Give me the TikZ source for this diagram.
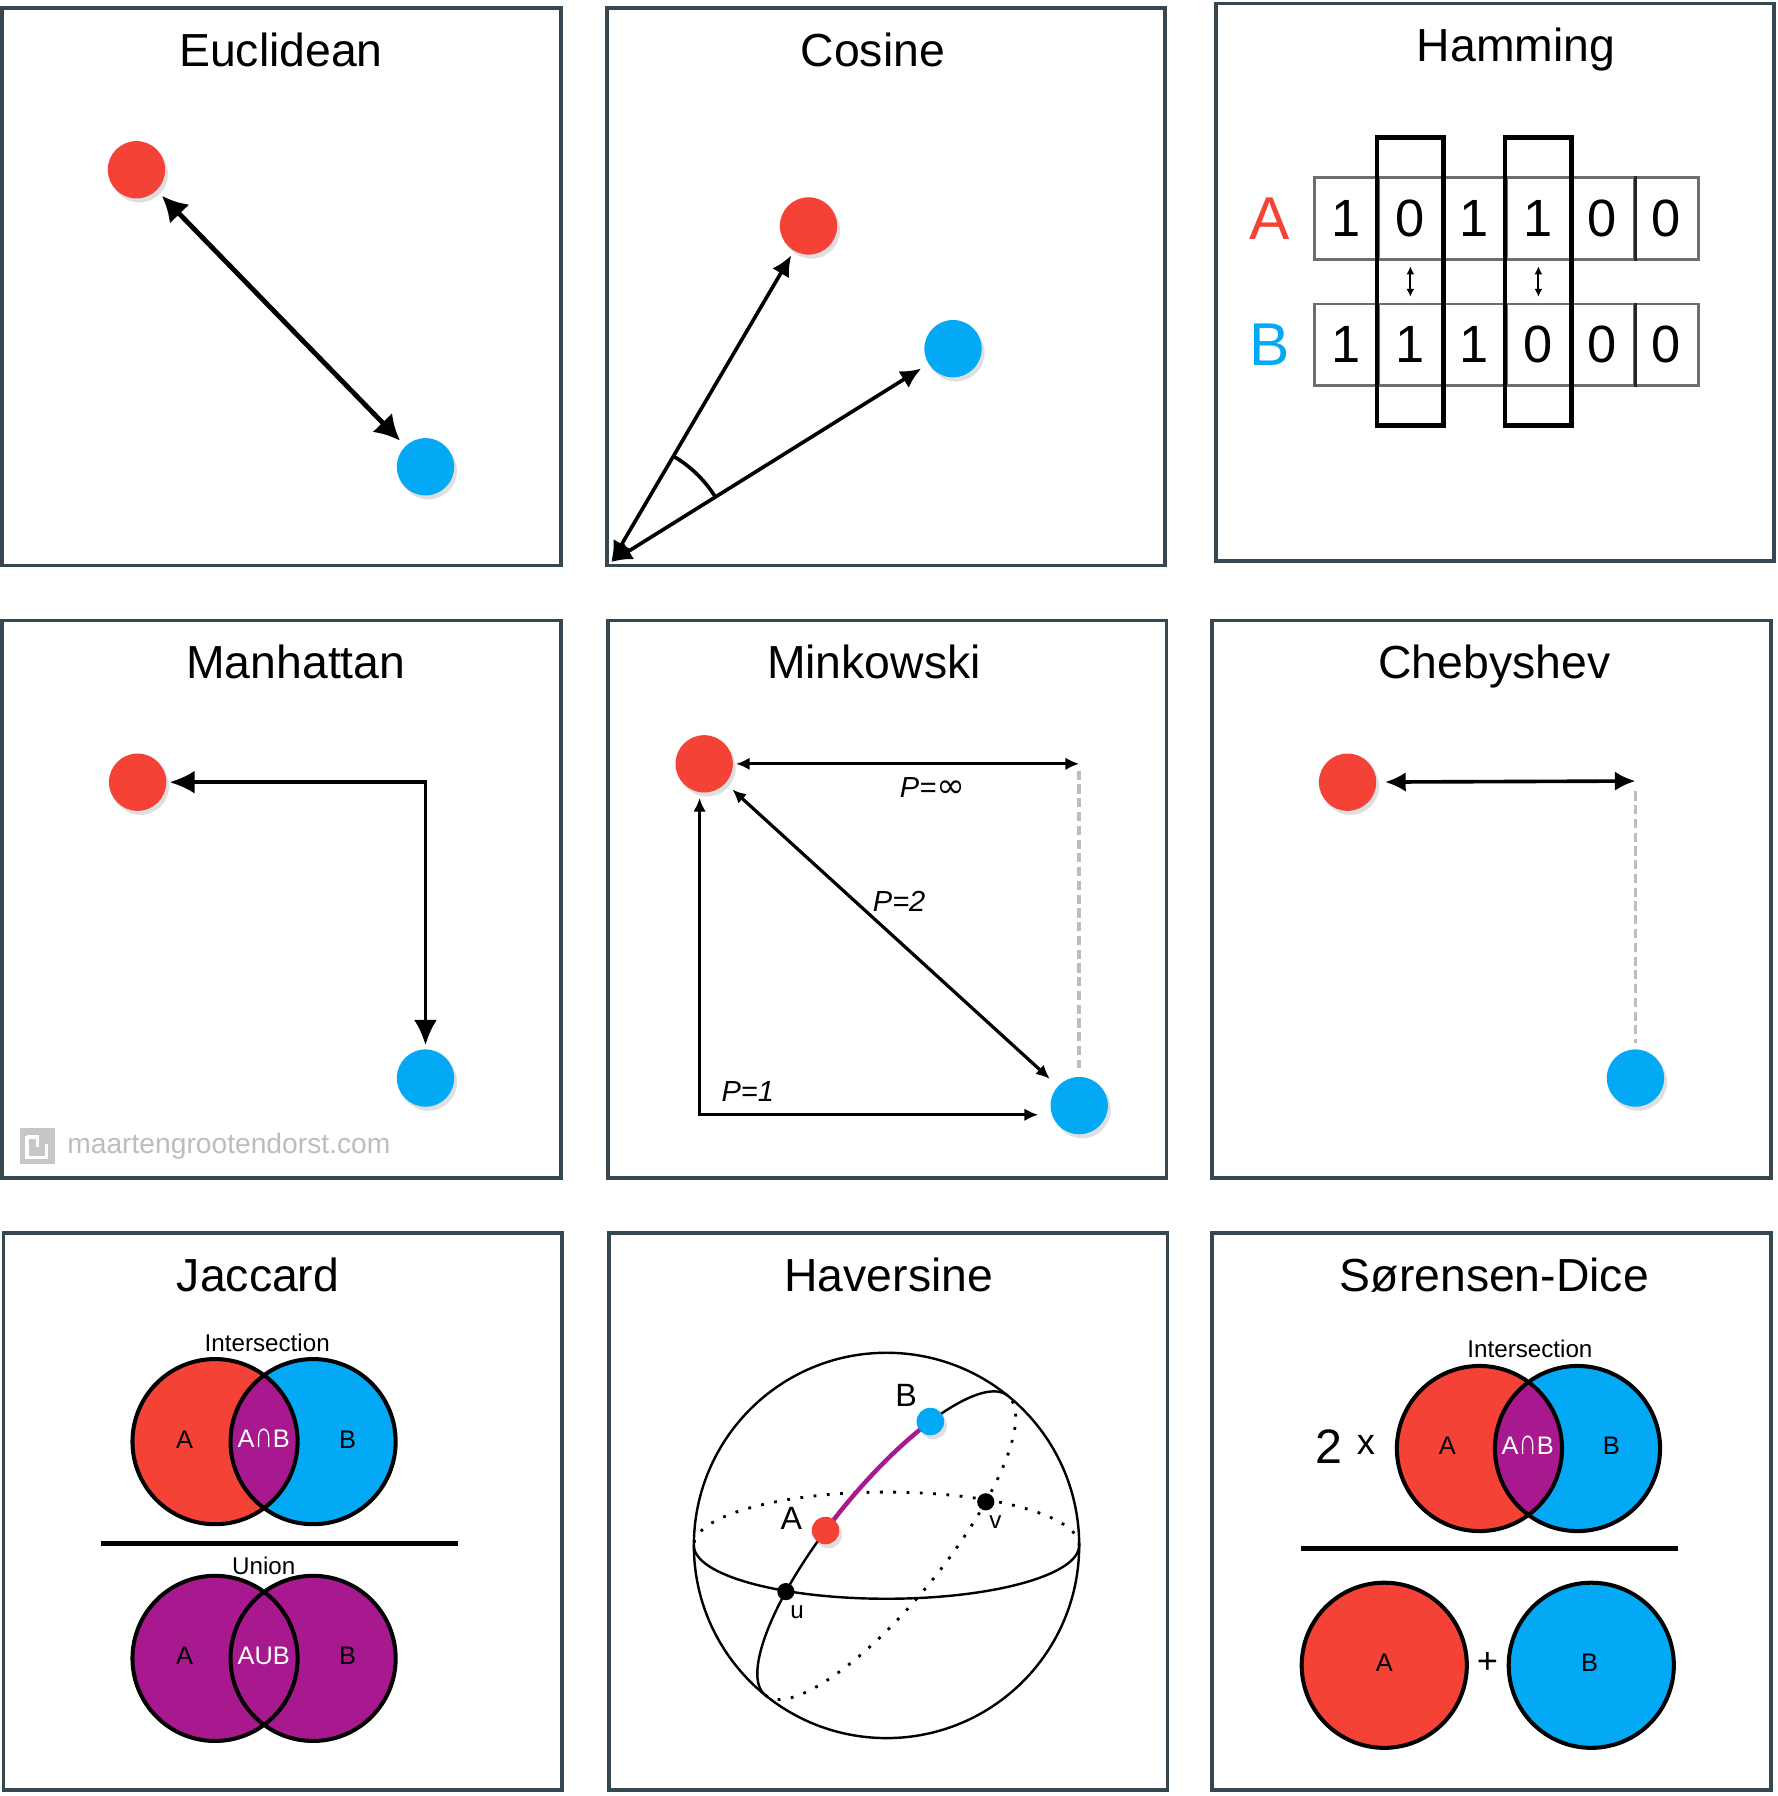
\documentclass[tikz,border=0pt]{standalone}
\usepackage{fontspec}
\setmainfont{Liberation Sans}
\newfontfamily\symfont{DejaVu Sans}
\usetikzlibrary{arrows.meta,shadows,positioning,fit}

\definecolor{frame}{HTML}{37474F}
\definecolor{ptred}{HTML}{F44336}
\definecolor{ptblue}{HTML}{03A9F4}
\definecolor{setpurple}{HTML}{A8198F}
\definecolor{guide}{HTML}{BDBDBD}
\definecolor{cellgray}{HTML}{6E6E6E}

\tikzset{
  panel/.style={draw=frame, line width=0.9pt},
  title/.style={font=\fontsize{11.5}{14}\selectfont, anchor=base},
  dotA/.style={circle, fill=ptred, minimum size=0.5cm, inner sep=0pt,
    drop shadow={opacity=0.25, shadow xshift=0.025cm, shadow yshift=-0.035cm}},
  dotB/.style={dotA, fill=ptblue},
  bigarrow/.style={line width=1.2pt, {Latex[length=0.22cm,width=0.24cm]}-{Latex[length=0.22cm,width=0.24cm]}},
  midarrow/.style={line width=0.9pt, {Latex[length=0.18cm,width=0.17cm]}-{Latex[length=0.18cm,width=0.17cm]}},
  smallarrow/.style={line width=0.8pt, {Latex[length=0.12cm,width=0.11cm]}-{Latex[length=0.12cm,width=0.11cm]}},
  tinyarrow/.style={line width=0.5pt, {Latex[length=0.07cm,width=0.07cm]}-{Latex[length=0.07cm,width=0.07cm]}},
  guideline/.style={draw=guide, line width=0.9pt, dash pattern=on 0.08cm off 0.04cm},
  cell/.style={draw=cellgray, line width=0.7pt, minimum width=0.558cm, minimum height=0.71cm,
    inner sep=0pt, font=\fontsize{13}{15}\selectfont},
  plabel/.style={font=\itshape\fontsize{7.2}{9}\selectfont},
  setlabel/.style={font=\fontsize{6.3}{8}\selectfont, inner sep=0pt},
  small/.style={font=\fontsize{6}{7}\selectfont, inner sep=0pt},
  venn/.style={line width=1pt},
  sphere/.style={line width=0.6pt},
  globedots/.style={line width=0.7pt, dash pattern=on 0.7pt off 2.6pt},
}
\newcommand{\capsym}{\scalebox{1}[1.45]{∩}}

\begin{document}
\begin{tikzpicture}

\fill[white] (0,0) rectangle (15.5,-15.66);
\useasboundingbox (0,0) rectangle (15.5,-15.66);

% panels and titles
\foreach \x/\y/\tx/\t/\n in {0.02/-0.07/2.45/Euclidean/eu, 5.29/-0.07/7.61/Cosine/co,
    10.60/-0.03/13.22/Hamming/ha, 0.02/-5.41/2.58/Manhattan/ma, 5.30/-5.41/7.62/Minkowski/mi,
    10.57/-5.41/13.03/Chebyshev/ch, 0.03/-10.75/2.25/Jaccard/ja, 5.31/-10.75/7.75/Haversine/hv,
    10.57/-10.75/13.03/Sørensen-Dice/sd}
{
  \draw[panel] (\x,\y) rectangle ++(4.87,-4.86);
  \node[title] (t\n) at (\tx,\y-0.51) {\t};
}

% Euclidean
\node[dotA] (euA) at (1.19,-1.48) {};
\node[dotB] (euB) at (3.71,-4.07) {};
\draw[bigarrow, shorten <=0.06cm, shorten >=0.06cm] (euA) -- (euB);

% Cosine
\coordinate (coO) at (5.33,-4.90);
\node[dotA] (coA) at (7.05,-1.97) {};
\node[dotB] (coB) at (8.31,-3.04) {};
\draw[midarrow, shorten >=0.04cm] (coO) -- (coA);
\draw[midarrow, shorten >=0.07cm] (coO) -- (coB);
\draw[line width=0.9pt] (coO) ++(59.6:1.07) arc[start angle=59.6, end angle=32, radius=1.07];

% Hamming
\foreach \b [count=\i] in {1,0,1,1,0,0}
  \node[cell] (hA\i) at ({11.46+0.5583*(\i-0.5)},-1.905) {\b};
\foreach \b [count=\i] in {1,1,1,0,0,0}
  \node[cell] (hB\i) at ({11.46+0.5583*(\i-0.5)},-3.005) {\b};
\draw[line width=0.8pt, black!85] (hA5.north east) -- (hA5.south east);
\draw[line width=0.8pt, black!85] (hB5.north east) -- (hB5.south east);
\node[fit=(hA2)(hB2), draw, line width=1.2pt, inner xsep=0pt, inner ysep=0.34cm] (hx2) {};
\node[fit=(hA4)(hB4), draw, line width=1.2pt, inner xsep=0pt, inner ysep=0.34cm] (hx4) {};
\draw[tinyarrow, shorten <=0.05cm, shorten >=0.05cm] (hA2.south) -- (hB2.north);
\draw[tinyarrow, shorten <=0.05cm, shorten >=0.05cm] (hA4.south) -- (hB4.north);
\node[font=\fontsize{15}{17}\selectfont, text=ptred, inner sep=0pt, left=0.19cm of hA1] (hLA) {A};
\node[font=\fontsize{15}{17}\selectfont, text=ptblue, inner sep=0pt, left=0.19cm of hB1] (hLB) {B};

% Manhattan
\node[dotA] (maA) at (1.20,-6.82) {};
\node[dotB] (maB) at (3.71,-9.40) {};
\coordinate (maC) at (3.71,-6.82);
\draw[line width=0.9pt, {Latex[length=0.22cm,width=0.2cm]}-{Latex[length=0.22cm,width=0.2cm]},
  shorten <=0.02cm, shorten >=0.03cm] (maA) -- (maC) -- (maB);

% watermark
\node[font=\fontsize{7}{8}\selectfont, text=guide, inner sep=0pt, anchor=west] (wm) at (0.58,-9.99) {maartengrootendorst.com};
\node[fill=guide!85, minimum size=0.31cm, inner sep=0pt, left=0.09cm of wm] (wmlogo) {};
\draw[white, line width=0.9pt] ([shift={(0.07,0.25)}]wmlogo.south west) -- ++(0,-0.19) -- ++(0.17,0) -- ++(0,0.12);
\draw[white, line width=0.9pt] ([shift={(0.07,0.24)}]wmlogo.south west) -- ++(0.09,0) -- ++(0,-0.09);

% Minkowski
\node[dotA] (miA) at (6.14,-6.66) {};
\node[dotB] (miB) at (9.41,-9.64) {};
\coordinate (miTR) at (9.41,-6.66);
\coordinate (miBL) at (6.10,-9.72);
\draw[smallarrow, shorten <=0.02cm] (miA) -- (miTR);
\draw[guideline, shorten <=0.06cm, shorten >=0.07cm] (miTR) -- (miB);
\draw[smallarrow, shorten <=0.075cm, shorten >=0.09cm] (miA) -- (miB);
\draw[smallarrow, shorten <=0.04cm, shorten >=0.1cm] (miA.south -| miBL) -- (miBL) -- (miB.west |- miBL);
\node[plabel] (pinf) at (8.13,-6.87) {P={\symfont\itshape\fontsize{8.5}{9}\selectfont ∞}};
\node[plabel] (ptwo) at (7.84,-7.86) {P=2};
\node[plabel] (pone) at (6.52,-9.52) {P=1};

% Chebyshev
\node[dotA] (chA) at (11.75,-6.82) {};
\node[dotB] (chB) at (14.26,-9.40) {};
\coordinate (chC) at (14.26,-6.81);
\draw[midarrow, shorten <=0.07cm] (chA) -- (chC);
\draw[guideline, shorten <=0.09cm, shorten >=0.05cm] (chC) -- (chB);

% Jaccard
\coordinate (jA) at (1.875,-12.57);
\coordinate (jB) at (2.73,-12.57);
\fill[ptred] (jA) circle (0.72);
\fill[ptblue] (jB) circle (0.72);
\begin{scope}
  \clip (jA) circle (0.72);
  \fill[setpurple] (jB) circle (0.72);
\end{scope}
\draw[venn] (jA) circle (0.72) (jB) circle (0.72);
\node[small] (jInt) at (2.33,-11.71) {Intersection};
\node[setlabel] (jLA) at (1.61,-12.55) {A};
\node[setlabel, text=white] (jLAB) at (2.30,-12.54) {A\capsym B};
\node[setlabel] (jLB) at (3.03,-12.55) {B};
\draw[line width=1.1pt] (0.88,-13.46) -- (3.99,-13.46);
\node[small] (jUni) at (2.30,-13.65) {Union};
\coordinate (uA) at (1.875,-14.46);
\coordinate (uB) at (2.73,-14.46);
\fill[setpurple] (uA) circle (0.72) (uB) circle (0.72);
\draw[venn] (uA) circle (0.72) (uB) circle (0.72);
\node[setlabel] (uLA) at (1.61,-14.44) {A};
\node[setlabel, text=white] (uLAB) at (2.30,-14.44) {AUB};
\node[setlabel] (uLB) at (3.03,-14.44) {B};

% Haversine
\coordinate (hc) at (7.73,-13.475);
\draw[sphere] (hc) circle (1.68);
\draw[globedots] ([xshift=1.68cm]hc) arc[start angle=0, end angle=180, x radius=1.68, y radius=0.465];
\draw[sphere] ([xshift=-1.68cm]hc) arc[start angle=180, end angle=360, x radius=1.68, y radius=0.465];
\begin{scope}[shift={(hc)}, rotate=51]
  \draw[sphere] (1.68,0) arc[start angle=0, end angle=180, x radius=1.68, y radius=0.5];
  \draw[globedots] (-1.68,0) arc[start angle=180, end angle=360, x radius=1.68, y radius=0.5];
  \draw[line width=1.1pt, setpurple] ({1.68*cos(98)},{0.5*sin(98)}) arc[start angle=98, end angle=50, x radius=1.68, y radius=0.5];
  \coordinate (gA) at ({1.68*cos(98)},{0.5*sin(98)});
  \coordinate (gB) at ({1.68*cos(50)},{0.5*sin(50)});
  \coordinate (gU) at ({1.68*cos(121)},{0.5*sin(121)});
  \coordinate (gV) at ({1.68*cos(-60)},{0.5*sin(-60)});
\end{scope}
\node[dotA, minimum size=0.24cm] (hvA) at (gA) {};
\node[dotB, minimum size=0.24cm] (hvB) at (gB) {};
\node[circle, fill=black, minimum size=0.15cm, inner sep=0pt] (hvU) at (gU) {};
\node[circle, fill=black, minimum size=0.15cm, inner sep=0pt] (hvV) at (gV) {};
\node[font=\fontsize{8}{10}\selectfont] (hvLA) at (6.90,-13.24) {A};
\node[font=\fontsize{8}{10}\selectfont] (hvLB) at (7.90,-12.17) {B};
\node[small] (hvLU) at (6.95,-14.06) {u};
\node[small] (hvLV) at (8.68,-13.27) {v};

% Sørensen-Dice
\coordinate (sA) at (12.90,-12.63);
\coordinate (sB) at (13.755,-12.63);
\fill[ptred] (sA) circle (0.72);
\fill[ptblue] (sB) circle (0.72);
\begin{scope}
  \clip (sA) circle (0.72);
  \fill[setpurple] (sB) circle (0.72);
\end{scope}
\draw[venn] (sA) circle (0.72) (sB) circle (0.72);
\node[small] (sInt) at (13.34,-11.76) {Intersection};
\node[font=\fontsize{12}{14}\selectfont, inner sep=0pt] (sTwo) at (11.59,-12.61) {2};
\node[font=\fontsize{9}{11}\selectfont, inner sep=0pt] (sTimes) at (11.91,-12.60) {x};
\node[setlabel] (sLA) at (12.62,-12.61) {A};
\node[setlabel, text=white] (sLAB) at (13.32,-12.60) {A\capsym B};
\node[setlabel] (sLB) at (14.05,-12.61) {B};
\draw[line width=1.1pt] (11.34,-13.50) -- (14.63,-13.50);
\coordinate (dA) at (12.07,-14.52);
\coordinate (dB) at (13.875,-14.52);
\fill[ptred] (dA) circle (0.72);
\fill[ptblue] (dB) circle (0.72);
\draw[venn] (dA) circle (0.72) (dB) circle (0.72);
\node[font=\fontsize{9}{11}\selectfont, inner sep=0pt] (sPlus) at (12.97,-14.50) {+};
\node[setlabel] (dLA) at (12.07,-14.50) {A};
\node[setlabel] (dLB) at (13.86,-14.50) {B};

\end{tikzpicture}
\end{document}
